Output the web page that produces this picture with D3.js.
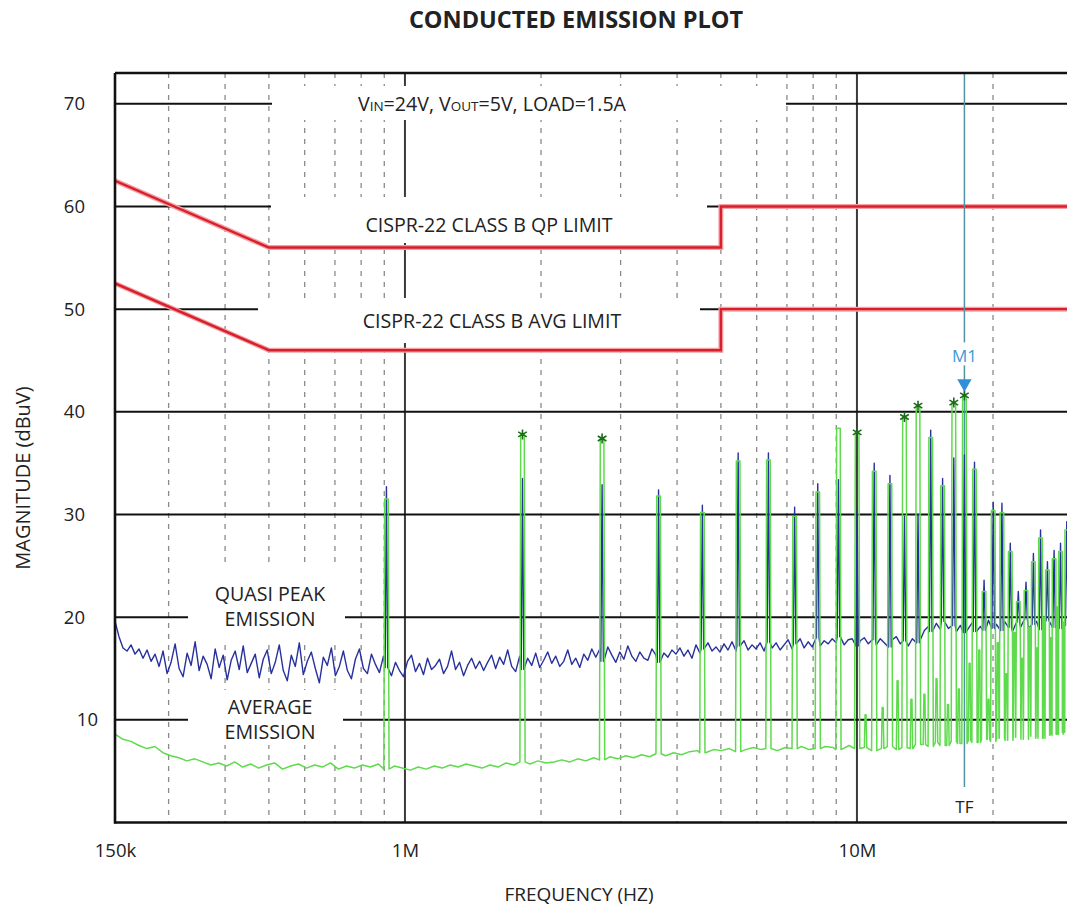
<!DOCTYPE html>
<html>
<head>
<meta charset="utf-8">
<script src="https://cdn.jsdelivr.net/npm/d3@7"></script>
<style>
  html, body { margin: 0; padding: 0; background: #ffffff; }
  svg { display: block; }
  text { font-family: "Open Sans", "Noto Sans", sans-serif; fill: #222; }
</style>
</head>
<body>
<svg id="chart" width="1067" height="907"></svg>
<script>
// ---------------- DATA ----------------
// analyzer sweep (the plot's left edge is labelled 150k)
const sweepStartHz = 228.3e3;
const sweepStopHz = 30e6;

// quasi-peak trace noise floor (dBuV), evenly spaced sweep points
const qpNoise = [
  19.6, 18.1, 17.0, 16.7, 17.3, 16.4, 16.9, 16.0, 16.8, 15.7,
  16.4, 15.2, 16.7, 14.5, 15.6, 17.4, 15.0, 14.2, 16.5, 15.3,
  17.6, 14.8, 16.2, 15.4, 14.0, 16.9, 15.1, 16.3, 13.9, 15.8,
  16.7, 14.9, 17.2, 14.6, 15.5, 16.4, 14.1, 15.9, 16.8, 14.5,
  15.6, 17.3, 14.8, 13.8, 16.3, 15.2, 17.5, 14.4, 15.7, 16.6,
  15.0, 13.6, 16.1, 15.3, 17.0, 14.3, 15.2, 16.7, 14.8, 14.0,
  15.9, 16.9, 15.0, 14.5, 16.4, 15.4, 14.6, 16.2, 15.1, 14.3,
  15.6, 14.8, 14.2, 15.7, 16.3, 14.7, 15.5, 14.4, 16.0, 14.9,
  15.3, 15.9, 14.5, 15.2, 16.7, 14.9, 15.6, 14.3, 15.3, 16.0,
  15.0, 15.7, 14.8, 15.6, 16.3, 15.0, 16.1, 15.4, 16.8, 15.2,
  14.7, 16.2, 14.9, 16.0, 15.3, 16.5, 15.1, 15.8, 16.6, 15.5,
  16.2, 15.2, 15.7, 16.8, 15.4, 16.0, 15.1, 16.4, 15.8, 16.9,
  16.1, 16.9, 15.7, 17.1, 16.3, 15.6, 16.6, 15.9, 17.2, 16.2,
  15.7, 16.6, 16.0, 15.8, 16.9, 16.3, 15.6, 16.5, 16.1, 16.8,
  16.4, 17.0, 16.2, 16.8, 16.0, 17.3, 16.5, 16.9, 17.5, 16.7,
  17.1, 16.6, 17.4, 16.8, 17.6, 16.7, 17.2, 17.7, 16.8, 17.3,
  16.9, 17.5, 16.7, 17.6, 17.0, 17.5, 16.8, 17.3, 17.8, 16.9,
  17.4, 17.9, 17.0, 17.6, 17.1, 18.0, 17.2, 17.7, 17.4, 17.9,
  17.5, 18.1, 17.3, 17.8, 17.9, 17.2, 17.7, 18.0, 17.4, 17.8,
  17.3, 17.9, 17.5, 17.1, 17.8, 18.1, 17.4, 17.7, 17.2, 17.9,
  17.5, 17.8, 18.7, 19.1, 18.6, 19.4, 18.8, 19.6, 18.9, 19.2,
  18.6, 19.2, 18.5, 18.9, 19.5, 18.6, 19.1, 18.7, 19.7, 18.9,
  19.3, 18.7, 19.6, 19.0, 18.6, 19.5, 19.0, 19.8, 18.9, 19.3,
  19.6, 18.8, 19.4, 19.7, 19.0, 19.5, 18.9, 19.6, 19.2, 19.1
];

// average trace noise floor (dBuV), evenly spaced sweep points
const avgNoise = [
  8.6, 8.1, 7.9, 7.5, 7.2, 7.4, 6.8, 6.5,
  6.3, 6.0, 6.2, 5.9, 5.6, 5.8, 5.5, 5.9,
  5.4, 5.7, 5.3, 5.6, 5.8, 5.2, 5.5, 5.7,
  5.3, 5.6, 5.4, 5.8, 5.2, 5.5, 5.3, 5.6,
  5.4, 5.7, 5.2, 5.5, 5.3, 5.1, 5.4, 5.2,
  5.5, 5.3, 5.6, 5.4, 5.7, 5.5, 5.3, 5.6,
  5.4, 5.8, 5.6, 5.9, 5.7, 6.0, 5.8, 5.9,
  6.1, 5.9, 6.2, 6.0, 6.3, 6.1, 6.4, 6.2,
  6.5, 6.3, 6.6, 6.4, 6.7, 6.5, 6.8, 6.6,
  6.9, 7.0, 6.8, 7.1, 7.0, 7.2, 6.9, 7.1,
  7.3, 7.1, 7.2, 7.0, 7.3, 7.2, 7.4, 7.1,
  7.2, 7.4, 7.3, 7.1, 7.5, 7.2, 7.3, 7.0,
  7.2, 7.4, 7.1, 7.3, 7.2, 7.6, 7.4, 7.8,
  7.5, 7.9, 7.7, 8.0, 7.8, 8.1, 7.9, 8.2,
  8.0, 8.3, 8.1, 8.4, 8.2, 8.5, 8.6, 8.8,
  8.7
];

// switching harmonics (MHz) and their levels (dBuV)
const harmonicMHz = [
  0.91, 1.82, 2.73, 3.64, 4.55, 5.46, 6.37, 7.28, 8.19, 9.10,
  10.01, 10.92, 11.83, 12.74, 13.65, 14.56, 15.47, 16.38, 17.29, 18.20,
  19.11, 20.02, 20.93, 21.84, 22.75, 23.66, 24.57, 25.48, 26.39, 27.30,
  28.21, 29.12
];
const qpHarmonic = [
  32.7, 33.5, 32.9, 32.4, 30.9, 36.0, 36.0, 30.7, 33.0, 33.4,
  30.5, 35.0, 33.8, 29.8, 30.0, 38.2, 33.5, 35.5, 35.8, 35.1,
  23.6, 31.2, 31.1, 27.2, 22.5, 23.4, 26.2, 28.5, 25.4, 26.5,
  27.2, 29.3
];
const avgHarmonic = [
  31.5, 37.8, 37.4, 31.8, 30.2, 35.2, 35.3, 29.8, 32.2, 38.4,
  38.0, 34.2, 33.0, 39.5, 40.6, 37.5, 32.8, 40.9, 41.6, 34.4,
  22.5, 30.4, 30.2, 26.4, 21.5, 22.6, 25.4, 27.7, 24.6, 25.7,
  26.4, 28.5
];
// harmonics flagged with a peak marker (1-based harmonic number)
const markedHarmonics = [2, 3, 11, 14, 15, 18, 19];

// smaller spurs on the average trace between harmonics (MHz, dBuV)
const avgSpurMHz = [10.45, 11.4, 12.3, 13.2, 14.1, 15.0, 15.9, 16.8, 17.75, 18.65,
                    19.55, 20.5, 21.4, 22.3, 23.2, 24.1, 25.0, 25.9, 26.85, 27.75, 28.65];
const avgSpurLevel = [10.5, 11.2, 13.8, 12.0, 12.5, 14.0, 11.5, 13.0, 15.5, 16.8,
                      12.0, 17.5, 14.5, 18.5, 16.0, 19.0, 17.0, 20.0, 18.0, 21.0, 19.5];

// CISPR-22 class B limits
const limitHz = [150e3, 500e3, 5e6, 5e6, 30e6];
const qpLimit = [66, 56, 56, 60, 60];
const avgLimit = [56, 46, 46, 50, 50];

// axes
const yTicks = [10, 20, 30, 40, 50, 60, 70];
const xTickHz = [sweepStartHz, 1e6, 1e7];
const xTickLabels = ["150k", "1M", "10M"];
const minorGridHz = [300e3, 400e3, 500e3, 600e3, 700e3, 800e3, 900e3,
                     2e6, 3e6, 4e6, 5e6, 6e6, 7e6, 8e6, 9e6, 20e6];
const majorGridHz = [1e6, 1e7];

// marker
const markerName = "M1";
const markerHarmonic = 19;
const markerTraceLabel = "TF";

// texts
const titleText = "CONDUCTED EMISSION PLOT";
const xTitle = "FREQUENCY (HZ)";
const yTitle = "MAGNITUDE (dBuV)";
const qpLimitText = "CISPR-22 CLASS B QP LIMIT";
const avgLimitText = "CISPR-22 CLASS B AVG LIMIT";

// ---------------- CHART ----------------
const svg = d3.select("#chart");
const P = { left: 115, right: 1072.6, top: 73, bottom: 822.5 };

const x = d3.scaleLog().domain([sweepStartHz, sweepStopHz]).range([P.left, P.right]);
const y = d3.scaleLinear().domain([0, 73]).range([P.bottom, P.top]);

svg.append("rect").attr("width", 1067).attr("height", 907).attr("fill", "#fff");

svg.append("defs").append("clipPath").attr("id", "plotClip")
  .append("rect").attr("x", P.left).attr("y", P.top)
  .attr("width", P.right - P.left).attr("height", P.bottom - P.top);

const grid = svg.append("g");
grid.selectAll("line.minor").data(minorGridHz).join("line")
  .attr("x1", d => x(d)).attr("x2", d => x(d))
  .attr("y1", P.top).attr("y2", P.bottom)
  .attr("stroke", "#8a8a8a").attr("stroke-width", 1.3)
  .attr("stroke-dasharray", "5,6");
grid.selectAll("line.major").data(majorGridHz).join("line")
  .attr("x1", d => x(d)).attr("x2", d => x(d))
  .attr("y1", P.top).attr("y2", P.bottom)
  .attr("stroke", "#3a3a3a").attr("stroke-width", 2);
grid.selectAll("line.h").data(yTicks).join("line")
  .attr("x1", P.left).attr("x2", P.right)
  .attr("y1", d => y(d)).attr("y2", d => y(d))
  .attr("stroke", "#111").attr("stroke-width", 2);

// white label panels that interrupt the grid
const panels = [
  [272, 86, 786, 120],
  [271, 197, 707, 243],
  [258, 298, 700, 343],
  [188, 567, 345, 640],
  [188, 690, 343, 745]
];
svg.append("g").selectAll("rect").data(panels).join("rect")
  .attr("x", d => d[0]).attr("y", d => d[1])
  .attr("width", d => d[2] - d[0]).attr("height", d => d[3] - d[1])
  .attr("fill", "#fff");

// labels inside the plot
const lbl = svg.append("g").attr("font-size", 19.6);
const vt = lbl.append("text").attr("x", 492).attr("y", 111).attr("text-anchor", "middle");
vt.append("tspan").text("V");
vt.append("tspan").attr("font-size", 13.5).text("IN");
vt.append("tspan").text("=24V, V");
vt.append("tspan").attr("font-size", 13.5).text("OUT");
vt.append("tspan").text("=5V, LOAD=1.5A");
lbl.append("text").attr("x", 489).attr("y", 232).attr("text-anchor", "middle").text(qpLimitText);
lbl.append("text").attr("x", 492).attr("y", 328).attr("text-anchor", "middle").text(avgLimitText);
lbl.append("text").attr("x", 270).attr("y", 601).attr("text-anchor", "middle").text("QUASI PEAK");
lbl.append("text").attr("x", 270).attr("y", 626).attr("text-anchor", "middle").text("EMISSION");
lbl.append("text").attr("x", 270).attr("y", 714).attr("text-anchor", "middle").text("AVERAGE");
lbl.append("text").attr("x", 270).attr("y", 739).attr("text-anchor", "middle").text("EMISSION");

const plotG = svg.append("g").attr("clip-path", "url(#plotClip)");

// limit lines
const limitLine = d3.line().x(d => x(d[0])).y(d => y(d[1]));
[qpLimit, avgLimit].forEach(arr => {
  const pts = limitHz.map((f, i) => [f, arr[i]]);
  plotG.append("path").attr("d", limitLine(pts)).attr("fill", "none")
    .attr("stroke", "#f2a3a6").attr("stroke-width", 5);
  plotG.append("path").attr("d", limitLine(pts)).attr("fill", "none")
    .attr("stroke", "#d81f2b").attr("stroke-width", 2.4);
});

// marker line (TF)
const mF = harmonicMHz[markerHarmonic - 1] * 1e6;
const mX = x(mF);
plotG.append("line").attr("x1", mX).attr("x2", mX).attr("y1", P.top).attr("y2", 787)
  .attr("stroke", "#4f93a3").attr("stroke-width", 1.5);

// trace builder
const lf0 = Math.log10(sweepStartHz), lf1 = Math.log10(sweepStopHz);
const pxToDec = (lf1 - lf0) / (P.right - P.left);
function sweep(noise) {
  return noise.map((v, i) => ({ f: Math.pow(10, lf0 + (lf1 - lf0) * i / (noise.length - 1)), v }));
}
function nearestLevel(base, f) {
  let best = base[0], bd = Infinity;
  base.forEach(p => { const d = Math.abs(Math.log(p.f / f)); if (d < bd) { bd = d; best = p; } });
  return best.v;
}
// spikes: {f, v, bw (half base width px), tw (half top width px)}
function buildTrace(noise, spikes) {
  const base = sweep(noise);
  let pts = base.slice();
  spikes.forEach(s => {
    const rb = Math.pow(10, s.bw * pxToDec);
    pts = pts.filter(p => p.f < s.f / rb || p.f > s.f * rb);
  });
  spikes.forEach(s => {
    const rb = Math.pow(10, s.bw * pxToDec);
    const rt = Math.pow(10, s.tw * pxToDec);
    const b = nearestLevel(base, s.f);
    pts.push({ f: s.f / rb, v: b });
    if (s.tw > 0) {
      pts.push({ f: s.f / rt, v: s.v });
      pts.push({ f: s.f * rt, v: s.v });
    } else {
      pts.push({ f: s.f, v: s.v });
    }
    pts.push({ f: s.f * rb, v: b });
  });
  pts.sort((a, b) => a.f - b.f);
  return pts;
}
const traceLine = d3.line().x(d => x(d.f)).y(d => y(d.v));

const qpSpikes = harmonicMHz.map((m, i) => ({ f: m * 1e6, v: qpHarmonic[i], bw: 1.3, tw: 0 }));
const avgSpikes = harmonicMHz.map((m, i) => ({ f: m * 1e6, v: avgHarmonic[i], bw: 2.6, tw: 1.8 }))
  .concat(avgSpurMHz.map((m, i) => ({ f: m * 1e6, v: avgSpurLevel[i], bw: 1.2, tw: 0.5 })));

plotG.append("path").attr("d", traceLine(buildTrace(qpNoise, qpSpikes)))
  .attr("fill", "none").attr("stroke", "#27319c").attr("stroke-width", 1.4)
  .attr("stroke-linejoin", "round");
plotG.append("path").attr("d", traceLine(buildTrace(avgNoise, avgSpikes)))
  .attr("fill", "none").attr("stroke", "#5edb4c").attr("stroke-width", 1.5)
  .attr("stroke-linejoin", "round");

// peak markers
const star = d3.symbol().type(d3.symbolAsterisk).size(70);
plotG.append("g").selectAll("path").data(markedHarmonics).join("path")
  .attr("d", star)
  .attr("transform", n => `translate(${x(harmonicMHz[n - 1] * 1e6)},${y(avgHarmonic[n - 1])})`)
  .attr("fill", "none").attr("stroke", "#1d6a1d").attr("stroke-width", 1.6);

// M1 label & arrow
const peakY = y(avgHarmonic[markerHarmonic - 1]);
svg.append("rect").attr("x", mX - 15).attr("y", peakY - 53).attr("width", 30).attr("height", 23).attr("fill", "#fff");
svg.append("text").attr("x", mX).attr("y", peakY - 33).attr("text-anchor", "middle")
  .attr("font-size", 17).style("fill", "#3d9ad6").text(markerName);
svg.append("path").attr("d", d3.symbol().type(d3.symbolTriangle).size(90))
  .attr("transform", `translate(${mX},${peakY - 12}) rotate(180)`)
  .attr("fill", "#2f8fd8");
svg.append("text").attr("x", mX).attr("y", 813).attr("text-anchor", "middle")
  .attr("font-size", 17).text(markerTraceLabel);

// frame
const frame = svg.append("g").attr("stroke", "#111").attr("stroke-width", 2.6);
frame.append("line").attr("x1", P.left).attr("x2", P.right).attr("y1", P.top).attr("y2", P.top);
frame.append("line").attr("x1", P.left).attr("x2", P.left).attr("y1", P.top).attr("y2", P.bottom + 1);
frame.append("line").attr("x1", P.left - 1).attr("x2", P.right).attr("y1", P.bottom).attr("y2", P.bottom);

// axes (tick labels only)
const yAxis = svg.append("g").attr("transform", "translate(85,0)")
  .call(d3.axisLeft(y).tickValues(yTicks).tickSize(0).tickPadding(0));
yAxis.select(".domain").remove();
yAxis.selectAll("text").attr("font-size", 18.5).attr("font-family", "Open Sans").style("fill", "#222")
  .filter(d => d === 10).attr("x", 13);

const xAxis = svg.append("g").attr("transform", `translate(0,${P.bottom})`)
  .call(d3.axisBottom(x).tickValues(xTickHz).tickSize(0).tickPadding(21)
    .tickFormat((d, i) => xTickLabels[i]));
xAxis.select(".domain").remove();
xAxis.selectAll("text").attr("font-size", 18.5).attr("font-family", "Open Sans").style("fill", "#222");

// titles
svg.append("text").attr("x", 576).attr("y", 28).attr("text-anchor", "middle")
  .attr("font-size", 23.5).attr("font-weight", "bold").text(titleText);
svg.append("text").attr("x", 579).attr("y", 901).attr("text-anchor", "middle")
  .attr("font-size", 19).text(xTitle);
svg.append("text").attr("transform", "translate(30,478) rotate(-90)").attr("text-anchor", "middle")
  .attr("font-size", 20).text(yTitle);
</script>
</body>
</html>
